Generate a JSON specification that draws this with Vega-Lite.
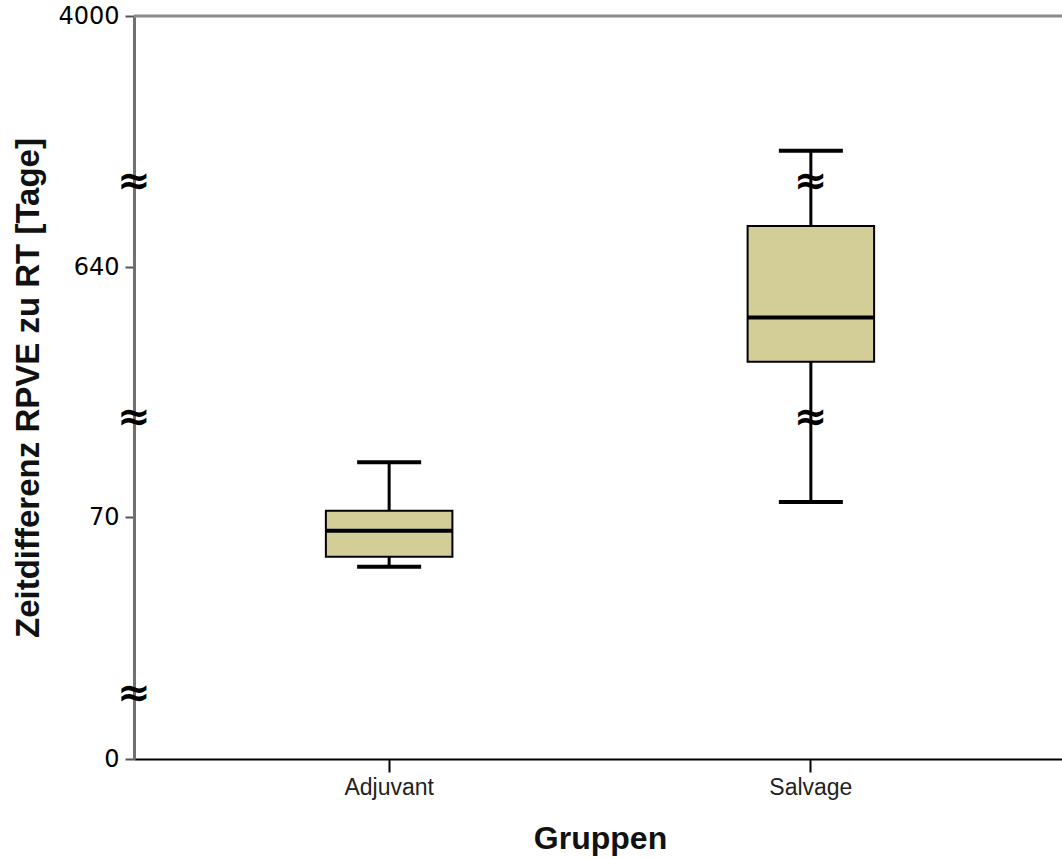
{
  "$schema": "https://vega.github.io/schema/vega-lite/v6.json",
  "width": 932,
  "height": 743,
  "autosize": {"type": "none"},
  "padding": {"left": 134, "top": 16, "right": 0, "bottom": 99},
  "background": "white",
  "config": {"view": {"stroke": null}, "axis": {"grid": false}},
  "datasets": {
    "boxes": [
      {"Gruppe": "Adjuvant", "lower": 55.6, "q1": 58.5, "median": 66, "q3": 84.4, "upper": 195},
      {"Gruppe": "Salvage", "lower": 104, "q1": 424, "median": 525, "q3": 1189, "upper": 2197}
    ],
    "breaks": [
      {"Gruppe": "Salvage", "wert": 1782},
      {"Gruppe": "Salvage", "wert": 295}
    ],
    "axisbreaks": [
      {"wert": 1782},
      {"wert": 295},
      {"wert": 18.8}
    ],
    "top": [{"wert": 4000}]
  },
  "layer": [
    {
      "data": {"name": "top"},
      "mark": {"type": "rule", "color": "#8c8c8c", "strokeWidth": 3},
      "encoding": {
        "y": {"field": "wert", "type": "quantitative"}
      }
    },
    {
      "data": {"name": "boxes"},
      "mark": {"type": "rule", "color": "black", "strokeWidth": 3},
      "encoding": {
        "x": {
          "field": "Gruppe", "type": "nominal",
          "scale": {"type": "band", "paddingInner": 0.7, "paddingOuter": 0.455},
          "axis": {
            "title": "Gruppen", "labelAngle": 0,
            "domainColor": "black", "domainWidth": 2,
            "tickColor": "black", "tickWidth": 2, "tickSize": 13,
            "labelFont": "Liberation Sans", "labelFontSize": 23, "labelColor": "#222222", "labelPadding": 4,
            "titleFont": "Liberation Sans", "titleFontWeight": "bold", "titleFontSize": 32, "titleColor": "#111111", "titlePadding": 24
          }
        },
        "y": {
          "field": "lower", "type": "quantitative",
          "scale": {"type": "linear", "domain": [0, 70, 640, 4000], "range": [743, 501, 251, 0], "clamp": false, "nice": false, "zero": false},
          "axis": {
            "title": "Zeitdifferenz RPVE zu RT [Tage]",
            "values": [0, 70, 640, 4000],
            "format": "d",
            "domainColor": "#707070", "domainWidth": 3,
            "tickColor": "#555555", "tickWidth": 2, "tickSize": 9,
            "labelFont": "DejaVu Sans", "labelFontSize": 24, "labelColor": "black", "labelPadding": 6,
            "titleFont": "Liberation Sans", "titleFontWeight": "bold", "titleFontSize": 33, "titleColor": "#111111", "titlePadding": 12
          }
        },
        "y2": {"field": "upper"}
      }
    },
    {
      "data": {"name": "boxes"},
      "mark": {"type": "tick", "color": "black", "opacity": 1, "thickness": 4, "size": 64},
      "encoding": {
        "x": {"field": "Gruppe", "type": "nominal"},
        "y": {"field": "upper", "type": "quantitative"}
      }
    },
    {
      "data": {"name": "boxes"},
      "mark": {"type": "tick", "color": "black", "opacity": 1, "thickness": 4, "size": 64},
      "encoding": {
        "x": {"field": "Gruppe", "type": "nominal"},
        "y": {"field": "lower", "type": "quantitative"}
      }
    },
    {
      "data": {"name": "boxes"},
      "mark": {"type": "bar", "fill": "#d3ce98", "stroke": "black", "strokeWidth": 2, "opacity": 1},
      "encoding": {
        "x": {"field": "Gruppe", "type": "nominal"},
        "y": {"field": "q1", "type": "quantitative"},
        "y2": {"field": "q3"}
      }
    },
    {
      "data": {"name": "boxes"},
      "mark": {"type": "tick", "color": "black", "opacity": 1, "thickness": 4, "size": 126},
      "encoding": {
        "x": {"field": "Gruppe", "type": "nominal"},
        "y": {"field": "median", "type": "quantitative"}
      }
    },
    {
      "data": {"name": "breaks"},
      "mark": {"type": "text", "text": "≈", "font": "DejaVu Sans", "fontWeight": "bold", "fontSize": 40, "align": "center", "baseline": "middle", "color": "black"},
      "encoding": {
        "x": {"field": "Gruppe", "type": "nominal"},
        "y": {"field": "wert", "type": "quantitative"}
      }
    },
    {
      "data": {"name": "axisbreaks"},
      "mark": {"type": "text", "text": "≈", "font": "DejaVu Sans", "fontWeight": "bold", "fontSize": 40, "align": "center", "baseline": "middle", "color": "black"},
      "encoding": {
        "x": {"value": 0},
        "y": {"field": "wert", "type": "quantitative"}
      }
    }
  ]
}
